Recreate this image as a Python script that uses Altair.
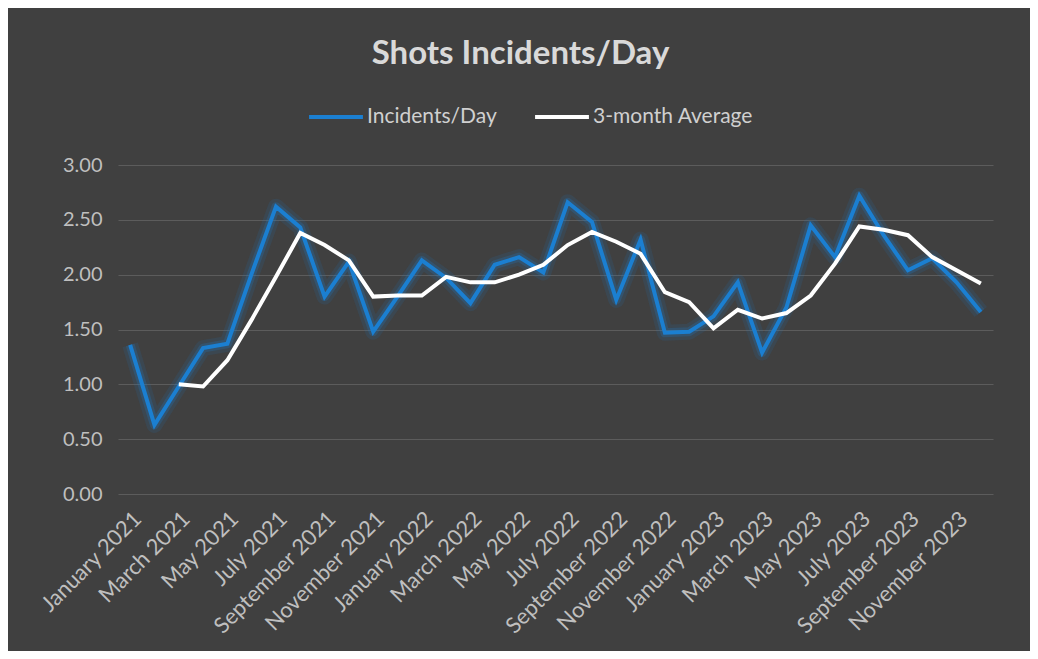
import altair as alt
import pandas as pd

month_names = ["January", "February", "March", "April", "May", "June", "July",
               "August", "September", "October", "November", "December"]
years = [2021, 2022, 2023]
months = [f"{m} {y}" for y in years for m in month_names]

incidents = [1.36, 0.63, 0.98, 1.33, 1.37, 2.01, 2.62, 2.43, 1.80, 2.12, 1.48, 1.80,
             2.13, 1.97, 1.74, 2.09, 2.16, 2.02, 2.66, 2.48, 1.77, 2.32, 1.47, 1.48,
             1.62, 1.93, 1.29, 1.70, 2.45, 2.16, 2.72, 2.36, 2.04, 2.15, 1.93, 1.66]

avg3 = [None, None, 1.00, 0.98, 1.22, 1.59, 1.98, 2.38, 2.27, 2.13, 1.80, 1.81,
        1.81, 1.98, 1.93, 1.93, 2.00, 2.09, 2.27, 2.39, 2.30, 2.19, 1.84, 1.75,
        1.51, 1.68, 1.60, 1.65, 1.81, 2.10, 2.44, 2.41, 2.36, 2.16, 2.04, 1.92]

series_names = ["Incidents/Day", "3-month Average"]
y_ticks = [0.0, 0.5, 1.0, 1.5, 2.0, 2.5, 3.0]

rows = []
for m, v in zip(months, incidents):
    rows.append({"month": m, "value": v, "series": series_names[0]})
for m, v in zip(months, avg3):
    if v is not None:
        rows.append({"month": m, "value": v, "series": series_names[1]})
df = pd.DataFrame(rows)

BLUE = "#1b7fd1"
WHITE = "#ffffff"
LABEL = "#bfbfbf"

x = alt.X("month:O", sort=months,
          scale=alt.Scale(type="point", padding=0.5),
          axis=alt.Axis(values=months[::2], title=None, labelAngle=315,
                        labelFontSize=22, labelColor=LABEL, labelPadding=14,
                        ticks=False, domain=False, grid=False, labelOverlap=False))
y = alt.Y("value:Q", scale=alt.Scale(domain=[0, 3], nice=False),
          axis=alt.Axis(values=y_ticks, format=".2f", title=None,
                        labelFontSize=20, labelColor=LABEL, labelPadding=16,
                        ticks=False, domain=False, grid=True,
                        gridColor="#5c5c5c", gridWidth=1))

color = alt.Color("series:N",
                  scale=alt.Scale(domain=series_names, range=[BLUE, WHITE]),
                  legend=alt.Legend(title=None, orient="none", direction="horizontal",
                                    legendX=189, legendY=-77, symbolType="stroke",
                                    symbolSize=2900, symbolStrokeWidth=4,
                                    labelFontSize=21, labelColor="#d0d0d0",
                                    labelLimit=0, labelOffset=2, columnPadding=30,
                                    padding=0))

base = alt.Chart(df)
blue_df = base.transform_filter(alt.datum.series == series_names[0])
white_df = base.transform_filter(alt.datum.series == series_names[1])

glow1 = blue_df.mark_line(color=BLUE, strokeWidth=16, opacity=0.12,
                          strokeJoin="round").encode(x=x, y=y)
glow2 = blue_df.mark_line(color=BLUE, strokeWidth=9, opacity=0.22,
                          strokeJoin="round").encode(x=x, y=y)
blue_line = blue_df.mark_line(strokeWidth=4).encode(x=x, y=y, color=color)
white_line = white_df.mark_line(strokeWidth=4).encode(x=x, y=y, color=color)

chart = alt.layer(glow1, glow2, blue_line, white_line).properties(
    width=875, height=329,
    padding={"left": 28, "top": 30, "right": 37, "bottom": 13},
    title=alt.TitleParams("Shots Incidents/Day", fontSize=33, fontWeight="bold",
                          color="#d9d9d9", anchor="middle", frame="group",
                          dx=-35, offset=17),
).configure(background="#404040", font="Lato").configure_view(stroke=None)

chart.save("out.html", embed_options={"renderer": "svg", "actions": False})
